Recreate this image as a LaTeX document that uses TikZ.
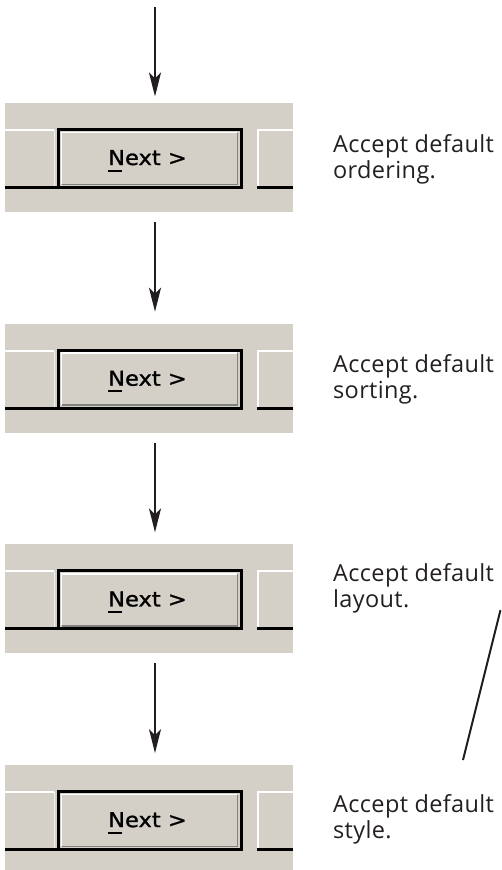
\documentclass[tikz,border=0pt]{standalone}
\usepackage{fontspec}
\usetikzlibrary{positioning,arrows.meta}

\newfontfamily\notefont[LetterSpace=1.5]{Open Sans}
\newfontfamily\btnfont[FakeStretch=1.1,FakeBold=1.2]{DejaVu Sans}

\definecolor{wingray}{HTML}{D4D0C8}
\definecolor{winshadow}{HTML}{808080}
\definecolor{ink}{HTML}{231F20}

\tikzset{
  panel/.style={fill=wingray, minimum width=288, minimum height=109, inner sep=0, outer sep=0},
  note/.style={anchor=base west, align=left, inner sep=0, text=ink,
    font=\notefont\fontsize{23.5}{26.5}\selectfont},
  btntext/.style={anchor=base, inner sep=0, font=\btnfont\fontsize{20.5}{24}\selectfont},
  flow/.style={draw=ink, line width=2, -{Stealth[length=24, width=12, inset=6]}},
  link/.style={draw=ink, line width=2},
  % the row of buttons inside one panel, origin at its top left corner
  pics/nextbar/.style={code={
    % neighbouring buttons
    \draw[white, line width=2] (0,27) -- (49,27);
    \draw[white!70!wingray, line width=1] (49.5,27) -- (49.5,83);
    \draw[white, line width=2] (253,84) -- (253,27) -- (288,27);
    \draw[black, line width=3] (0,84.5) -- (53,84.5);
    \draw[black, line width=3] (252,84.5) -- (288,84.5);
    % default button
    \draw[black, line width=3] (53.5,26.5) rectangle (236.5,84.5);
    \draw[white, line width=1.5] (56.5,81) -- (56.5,29.5) -- (232,29.5);
    \draw[winshadow, line width=1.5] (57,81.5) -- (232.5,81.5) -- (232.5,29.5);
    \node[btntext] at (142.5,62) {\rlap{\rule[-6.5pt]{14pt}{2pt}}Next >};
  }}
}

\begin{document}
\begin{tikzpicture}[x=1pt, y=-1pt]
  \useasboundingbox (0,0) rectangle (501,870);
  \clip (0,0) rectangle (501,870);

  \coordinate (start) at (155,7);

  \node[panel] (p1) at (149,157.5) {};
  \node[panel, below=111.7pt of p1] (p2) {};
  \node[panel, below=111.7pt of p2] (p3) {};
  \node[panel, below=111.7pt of p3] (p4) {};

  \pic at (p1.north west) {nextbar};
  \pic at (p2.north west) {nextbar};
  \pic at (p3.north west) {nextbar};
  \pic at (p4.north west) {nextbar};

  % base of a two-line note sits on its second line
  \node[note] (n1) at (333,178.5) {Accept default\\ordering.};
  \node[note] (n2) at (333,398.5) {Accept default\\sorting.};
  \node[note] (n3) at (333,607.5) {Accept default\\layout.};
  \node[note] (n4) at (333,838.5) {Accept default\\style.};

  \draw[flow, shorten >=6.5] (start) -- (p1.north -| start);
  \draw[flow, shorten <=10, shorten >=12] (p1.south -| start) -- (p2.north -| start);
  \draw[flow, shorten <=10, shorten >=12] (p2.south -| start) -- (p3.north -| start);
  \draw[flow, shorten <=10, shorten >=12] (p3.south -| start) -- (p4.north -| start);

  % pointer from the layout step down to the style step
  \coordinate (c3) at (500.5,610);
  \coordinate (c4) at (463,760);
  \draw[link] (c3) -- (c4);
\end{tikzpicture}
\end{document}
